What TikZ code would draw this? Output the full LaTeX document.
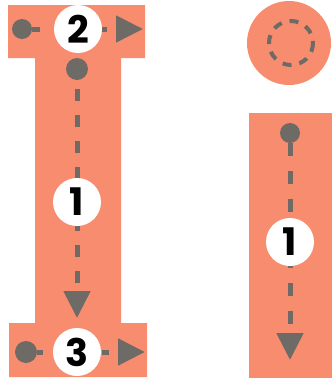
\documentclass[tikz,border=0pt]{standalone}
\usepackage{fontspec}
\setsansfont{Poppins}
\usetikzlibrary{arrows.meta,backgrounds}
\definecolor{salmon}{HTML}{F78C6F}
\definecolor{slate}{HTML}{6E6A66}

\begin{document}
\begin{tikzpicture}[x=1pt,y=-1pt,font=\sffamily\bfseries,
  dot/.style={circle,fill=slate,minimum size=20pt,inner sep=0pt},
  num/.style={circle,fill=white,minimum size=48pt,inner sep=0pt,
    font=\sffamily\bfseries\fontsize{38}{38}\selectfont},
  flow/.style={slate,line width=5pt,dash pattern=on 12pt off 14pt,
    -{Triangle[length=27pt,width=26pt]}}]
  \useasboundingbox (0,0) rectangle (334,381);

  \node[dot] (d2) at (22,29) {};
  \node[num] (n2) at (78,29) {2};
  \coordinate (e2) at (143,29);

  \node[dot,minimum size=22pt] (ds) at (77,69) {};
  \node[num] (n1) at (77,202) {1};
  \coordinate (es) at (77,318);

  \node[dot,minimum size=22pt] (d3) at (26,352) {};
  \node[num] (n3) at (77,352) {3};
  \coordinate (e3) at (145,352);

  \node[dot] (dr) at (290,133) {};
  \node[num] (nr) at (290,242) {1};
  \coordinate (er) at (290,360);

  \begin{scope}[on background layer]
    \fill[salmon] (8,5) -- (145,5) -- (145,58) -- (121,58) -- (121,323)
      -- (147,323) -- (147,377) -- (9,377) -- (9,323) -- (35,323)
      -- (35,58) -- (8,58) -- cycle;
    \fill[salmon] (249,113) rectangle (332,378);
    \fill[salmon] (289,43) circle[radius=42];
    \draw[slate,line width=4pt,dash pattern=on 9pt off 8pt]
      (291,43) circle[radius=22];

    \draw[flow,dash pattern=on 8pt off 55pt on 12pt off 30pt] (d2) -- (e2);
    \draw[flow,dash phase=17pt] (ds) -- (es);
    \draw[flow,dash pattern=on 6pt off 59pt on 7pt off 30pt] (d3) -- (e3);
    \draw[flow,dash pattern=on 13pt off 15pt] (dr) -- (er);
  \end{scope}
\end{tikzpicture}
\end{document}
